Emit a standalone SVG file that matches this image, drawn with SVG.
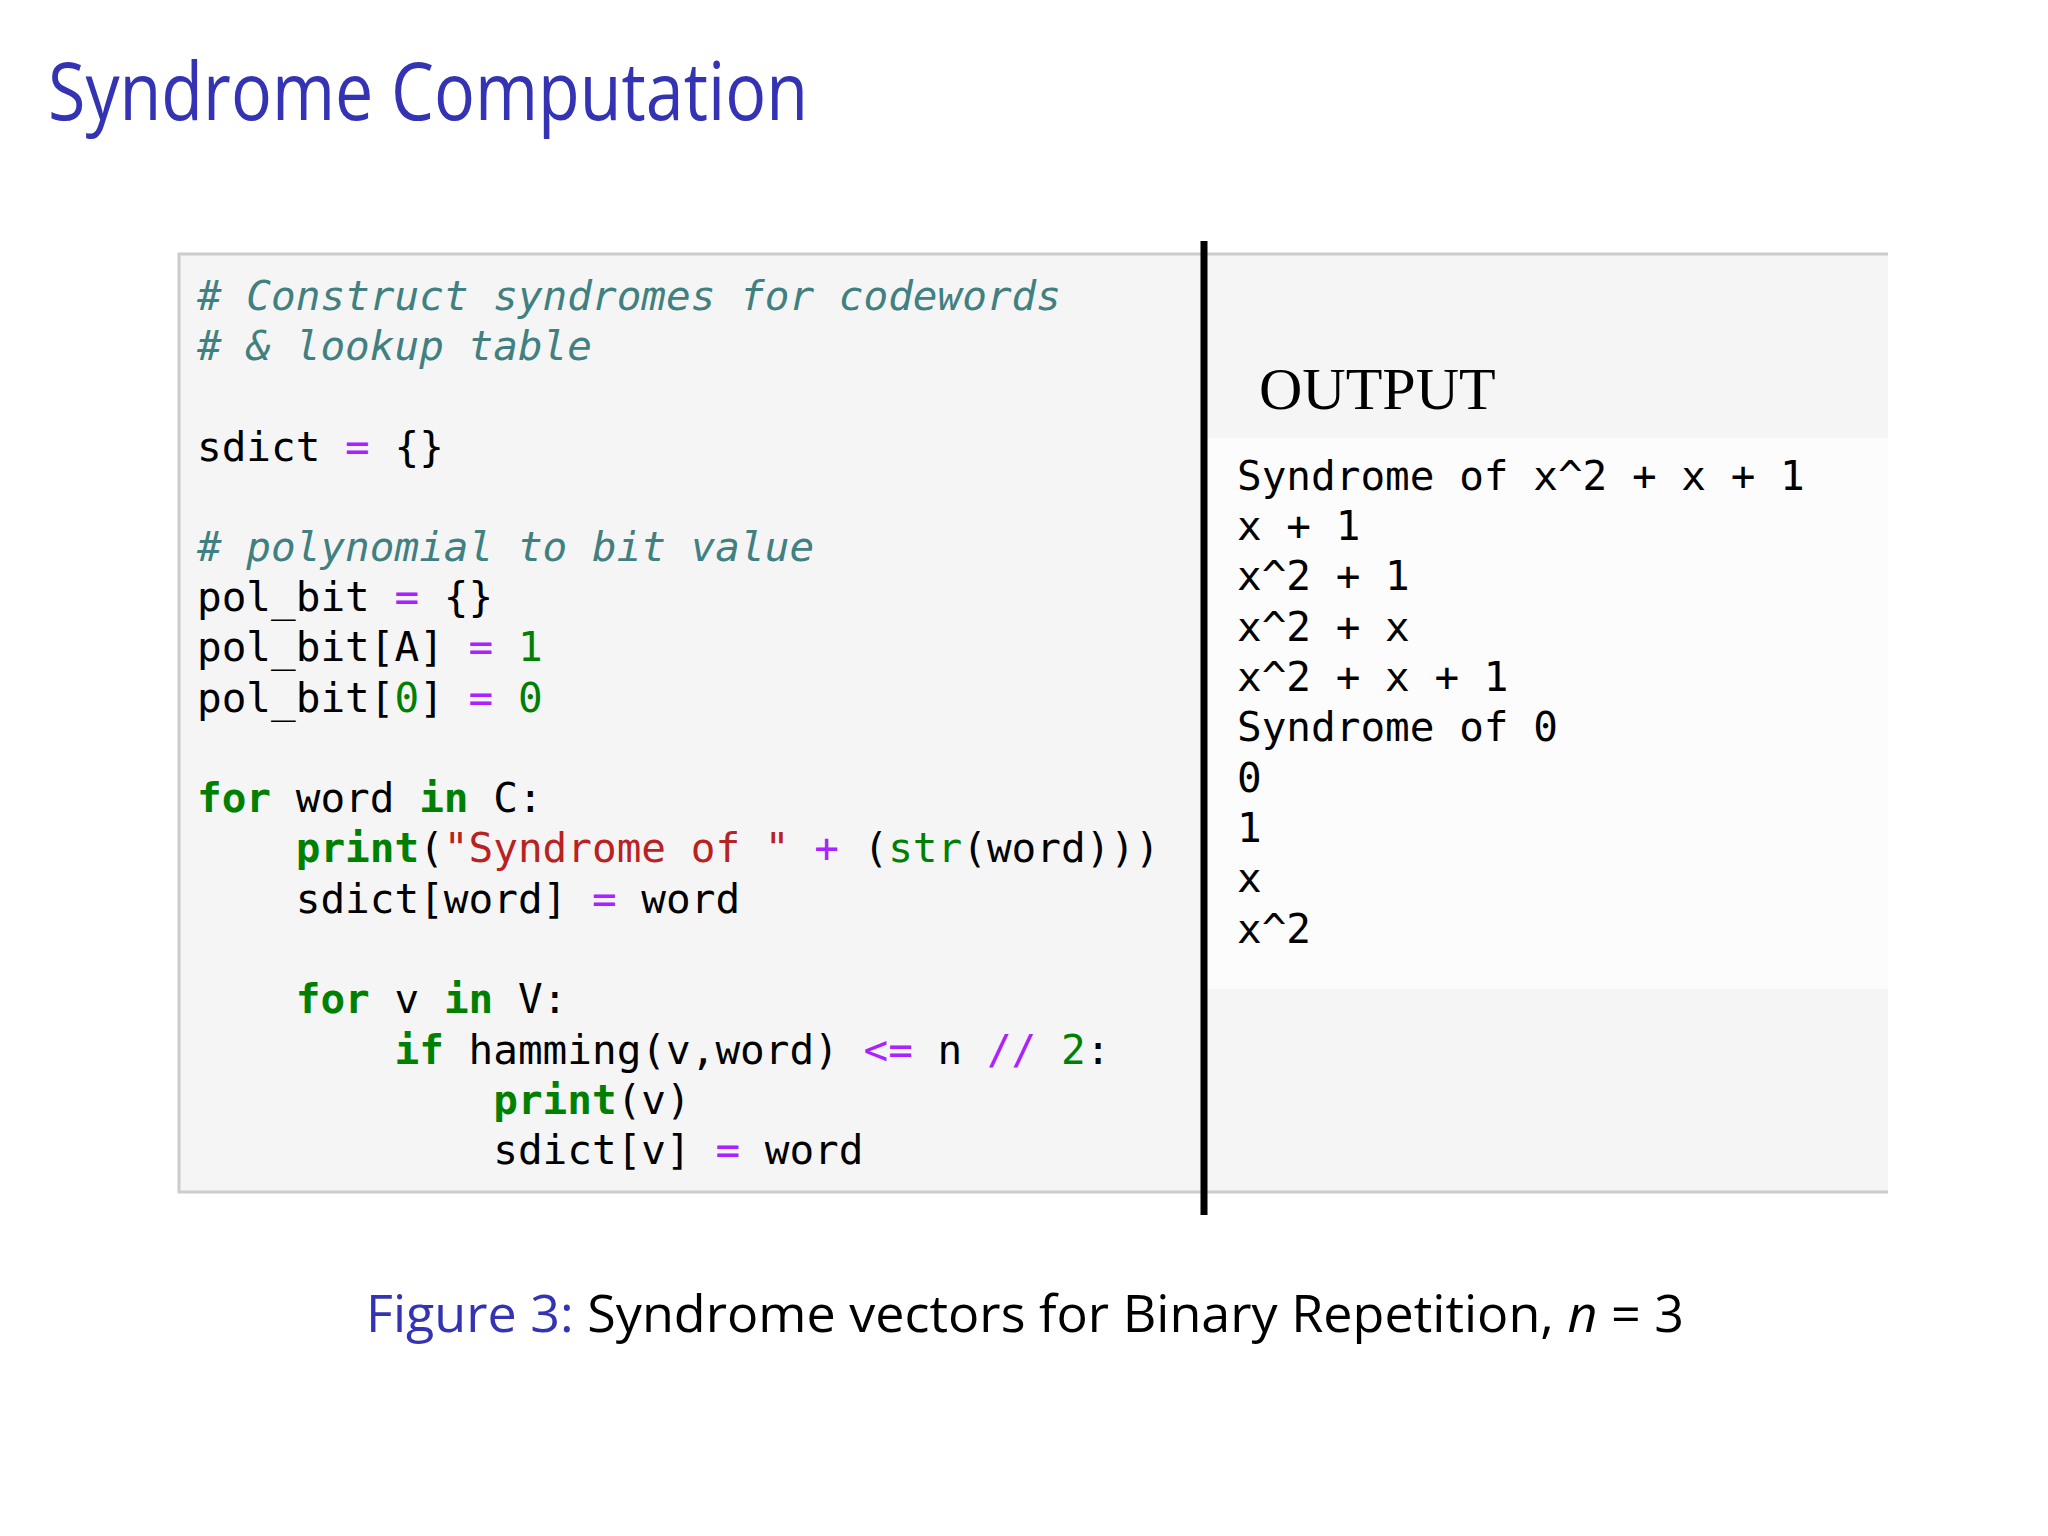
<svg xmlns="http://www.w3.org/2000/svg" width="2048" height="1536" viewBox="0 0 2048 1536">
<style>
.c{font-family:"DejaVu Sans Mono",monospace;font-size:41px;fill:#000}
.cm{fill:#408080;font-style:italic}
.k{fill:#008000;font-weight:bold}
.o{fill:#AA22FF}
.n{fill:#008000}
.s{fill:#BA2121}
.sans{font-family:"Open Sans","DejaVu Sans",sans-serif}
</style>
<rect width="2048" height="1536" fill="#fff"/>
<text class="sans" x="48" y="120" font-size="80" fill="#3333b3" textLength="760" lengthAdjust="spacingAndGlyphs">Syndrome Computation</text>
<g id="code">
<rect x="179" y="254" width="1024" height="938" fill="#f5f5f5" stroke="#cccccc" stroke-width="3"/>
<text class="c" xml:space="preserve"><tspan x="197" y="310" class="cm"># Construct syndromes for codewords</tspan><tspan x="197" y="360" class="cm"># &amp; lookup table</tspan><tspan x="197" y="461">sdict <tspan class="o">=</tspan> {}</tspan><tspan x="197" y="561" class="cm"># polynomial to bit value</tspan><tspan x="197" y="611">pol_bit <tspan class="o">=</tspan> {}</tspan><tspan x="197" y="661">pol_bit[A] <tspan class="o">=</tspan> <tspan class="n">1</tspan></tspan><tspan x="197" y="712">pol_bit[<tspan class="n">0</tspan>] <tspan class="o">=</tspan> <tspan class="n">0</tspan></tspan><tspan x="197" y="812"><tspan class="k">for</tspan> word <tspan class="k" fill="#AA22FF">in</tspan> C:</tspan><tspan x="197" y="862">    <tspan class="k">print</tspan>(<tspan class="s">"Syndrome of "</tspan> <tspan class="o">+</tspan> (<tspan class="n">str</tspan>(word)))</tspan><tspan x="197" y="913">    sdict[word] <tspan class="o">=</tspan> word</tspan><tspan x="197" y="1013">    <tspan class="k">for</tspan> v <tspan class="k">in</tspan> V:</tspan><tspan x="197" y="1064">        <tspan class="k">if</tspan> hamming(v,word) <tspan class="o">&lt;=</tspan> n <tspan class="o">//</tspan> <tspan class="n">2</tspan>:</tspan><tspan x="197" y="1114">            <tspan class="k">print</tspan>(v)</tspan><tspan x="197" y="1164">            sdict[v] <tspan class="o">=</tspan> word</tspan></text>
</g>
<g id="output">
<rect x="1203" y="254" width="685" height="184" fill="#f5f5f5"/>
<rect x="1203" y="438" width="685" height="551" fill="#fcfcfc"/>
<rect x="1203" y="989" width="685" height="203" fill="#f5f5f5"/>
<line x1="1203" y1="254" x2="1888" y2="254" stroke="#cccccc" stroke-width="3"/>
<line x1="1203" y1="1192" x2="1888" y2="1192" stroke="#cccccc" stroke-width="3"/>
<text x="1259" y="409" font-family="Liberation Serif,serif" font-size="60">OUTPUT</text>
<text class="c"><tspan x="1237" y="490">Syndrome of x^2 + x + 1</tspan><tspan x="1237" y="540">x + 1</tspan><tspan x="1237" y="590">x^2 + 1</tspan><tspan x="1237" y="641">x^2 + x</tspan><tspan x="1237" y="691">x^2 + x + 1</tspan><tspan x="1237" y="741">Syndrome of 0</tspan><tspan x="1237" y="792">0</tspan><tspan x="1237" y="842">1</tspan><tspan x="1237" y="892">x</tspan><tspan x="1237" y="943">x^2</tspan></text>
</g>
<line x1="1204" y1="241" x2="1204" y2="1215" stroke="#000" stroke-width="7"/>
<text class="sans" x="366" y="1332" font-size="52" textLength="1318" lengthAdjust="spacingAndGlyphs"><tspan fill="#3333b3">Figure 3:</tspan> Syndrome vectors for Binary Repetition, <tspan font-style="italic">n</tspan> = 3</text>
</svg>
